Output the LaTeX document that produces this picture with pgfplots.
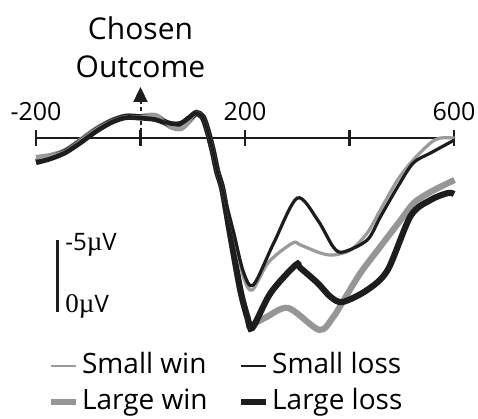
\documentclass[border=0pt]{standalone}
\usepackage{pgfplots}
\pgfplotsset{compat=1.18}
\usepackage{fontspec}
\setmainfont{Open Sans}
\newfontfamily\serif{Liberation Serif}
\usetikzlibrary{arrows.meta}
\definecolor{cblack}{RGB}{30,28,29}
\definecolor{cgray}{RGB}{150,150,150}
\definecolor{cgrayl}{RGB}{155,155,155}

\pgfplotstableread{
x y
-200 1.74
-172 1.45
-144 1.01
-115 0.29
-86 -0.51
-57 -1.16
-29 -1.52
0 -1.49
29 -1.38
57 -1.01
77 -1.01
94 -1.45
107 -1.81
119 -1.52
128 -0.58
138 0.87
147 2.46
157 3.77
172 7.03
191 11.01
205 13.04
214 13.77
249 11.23
297 9.20
306 9.42
339 10.51
364 11.52
387 11.88
434 11.01
473 9.57
517 5.65
555 4.49
588 3.99
600 4.06
}\largeloss

\pgfplotstableread{
x y
-200 1.45
-172 1.30
-144 0.95
-115 0.20
-86 -0.60
-57 -1.20
-29 -1.55
0 -1.52
29 -1.59
57 -0.87
77 -0.72
94 -1.30
107 -1.81
119 -1.52
128 -0.58
138 0.87
147 2.46
157 3.77
172 7.03
191 11.01
205 13.04
211 13.55
240 13.0
283 12.32
342 13.91
369 12.97
389 11.74
421 9.78
454 8.12
498 5.94
523 4.71
555 3.91
601 3.04
}\largewin

\pgfplotstableread{
x y
-200 1.74
-172 1.45
-144 1.01
-115 0.29
-86 -0.51
-57 -1.16
-29 -1.52
0 -1.49
29 -1.38
57 -1.01
77 -1.01
94 -1.45
107 -1.81
119 -1.52
128 -0.58
138 0.87
147 2.46
157 3.77
178 6.81
197 9.71
216 10.65
255 7.61
300 4.35
339 5.94
369 7.90
388 8.26
434 7.39
459 5.72
492 3.55
522 1.81
555 1.09
601 0.14
}\smallloss

\pgfplotstableread{
x y
-200 1.45
-172 1.30
-144 0.95
-115 0.20
-86 -0.60
-57 -1.20
-29 -1.55
0 -1.52
29 -1.59
57 -0.87
77 -0.72
94 -1.30
107 -1.81
119 -1.52
128 -0.58
138 0.87
147 2.46
157 3.77
178 6.81
197 10.07
214 11.01
245 9.0
291 7.61
306 7.75
344 8.33
369 8.48
402 8.12
434 6.88
459 5.22
492 3.04
522 1.59
555 0.36
574 0.0
601 0.0
}\smallwin

\begin{document}
\begin{tikzpicture}[x=1pt,y=1pt]
\begin{axis}[
  at={(36pt,0pt)}, anchor=south west,
  scale only axis, width=418pt, height=418pt,
  xmin=-200, xmax=600, ymin=-10, ymax=20.29, y dir=reverse,
  axis lines=none, clip=false,
  legend columns=2,
  legend style={at={(axis cs:-176,15.55)}, anchor=north west, draw=none, fill=none,
    inner sep=0pt, outer sep=0pt, row sep=9pt,
    font=\fontsize{28}{28}\selectfont,
    nodes={inner sep=0pt, text height=21pt, text depth=6pt},
    /tikz/every odd column/.append style={column sep=3pt},
    /tikz/every even column/.append style={column sep=31pt}},
  legend cell align=left,
  legend image code/.code={\draw[#1] (0pt,0pt) -- (25pt,0pt);},
]
% x axis line and ticks
\addplot[cblack, line width=2.4pt, forget plot] coordinates {(-200,0) (600,0)};
\addplot[cblack, line width=2.4pt, forget plot] coordinates {(-200,-0.58) (-200,0.58)};
\addplot[cblack, line width=2.4pt, forget plot] coordinates {(0,-0.58) (0,0.58)};
\addplot[cblack, line width=2.4pt, forget plot] coordinates {(200,-0.58) (200,0.58)};
\addplot[cblack, line width=2.4pt, forget plot] coordinates {(400,-0.58) (400,0.58)};
\addplot[cblack, line width=2.4pt, forget plot] coordinates {(600,-0.58) (600,0.58)};
% tick labels
\node[anchor=base, font=\fontsize{25}{25}\selectfont] at (axis cs:-200,-1.30) {-200};
\node[anchor=base, font=\fontsize{25}{25}\selectfont] at (axis cs:200,-1.30) {200};
\node[anchor=base, font=\fontsize{25}{25}\selectfont] at (axis cs:600,-1.30) {600};
% arrow
\addplot[cblack, line width=2pt, dash pattern=on 4pt off 3pt, forget plot,
  -{Triangle[length=15pt,width=14pt]}] coordinates {(0,0.55) (0,-3.70)};
\node[anchor=base, font=\fontsize{30}{30}\selectfont] at (axis cs:0,-7.17) {Chosen};
\node[anchor=base, font=\fontsize{30}{30}\selectfont] at (axis cs:0,-4.42) {Outcome};
% scale bar
\addplot[cblack, line width=3.5pt, forget plot] coordinates {(-159,7.39) (-159,12.61)};
\node[anchor=base west, inner sep=0pt, font=\fontsize{24}{24}\selectfont] at (axis cs:-144,8.12) {-5{\serif\fontsize{27}{27}\selectfont µ}V};
\node[anchor=base west, inner sep=0pt, font=\fontsize{24}{24}\selectfont] at (axis cs:-144,12.61) {{\serif\fontsize{27}{27}\selectfont 0µ}V};
% data
\addplot[cgray, line width=6.2pt, smooth, forget plot] table[x=x,y=y] {\largewin};
\addplot[cblack, line width=6.2pt, smooth, forget plot] table[x=x,y=y] {\largeloss};
\addplot[cgrayl, line width=3.2pt, smooth, forget plot] table[x=x,y=y] {\smallwin};
\addplot[cblack, line width=3.2pt, smooth, forget plot] table[x=x,y=y] {\smallloss};
% legend
\addlegendimage{cgrayl, line width=2.8pt}
\addlegendentry{Small win}
\addlegendimage{cblack, line width=2.8pt}
\addlegendentry{Small loss}
\addlegendimage{cgray, line width=5.5pt}
\addlegendentry{Large win}
\addlegendimage{cblack, line width=5.5pt}
\addlegendentry{Large loss}
\end{axis}
\pgfresetboundingbox
\useasboundingbox (0pt,0pt) rectangle (478pt,418pt);
\end{tikzpicture}
\end{document}
